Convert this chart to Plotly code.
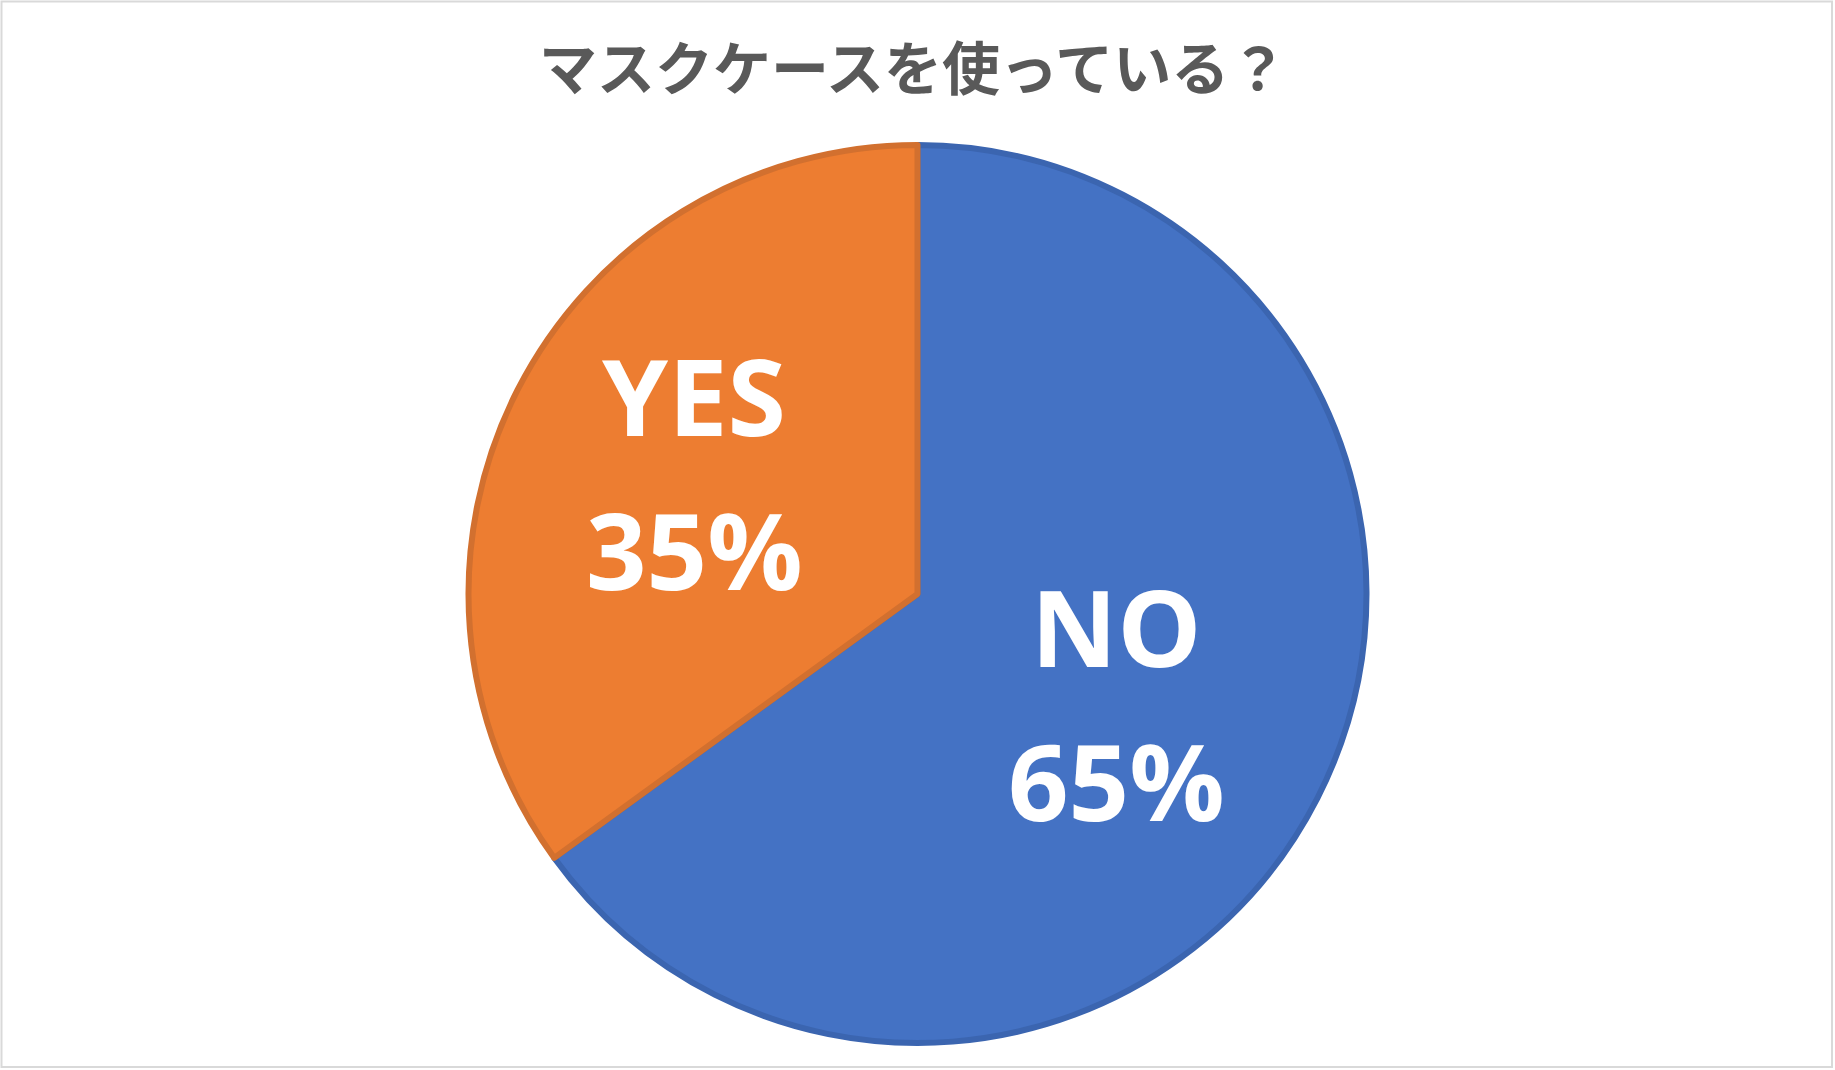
import math
import plotly.graph_objects as go

# ---- data ----
title_text = "マスクケースを使っている？"
categories = ["NO", "YES"]
values = [65, 35]
pct_labels = ["65%", "35%"]

# ---- style ----
fill_colors = ["#4472C4", "#ED7D31"]
line_colors = ["#3B65B0", "#D2702F"]
label_r = [0.51, 0.56]            # label distance as fraction of radius
label_nudge = [(-5, 5), (1, -8)]  # small pixel nudges (x, y-down)

W, H = 1835, 1070
cx, cy, R = 917.5, 594.0, 449.0

fig = go.Figure()
fig.add_trace(go.Pie(
    labels=categories,
    values=values,
    sort=False,
    direction="clockwise",
    rotation=0,
    textinfo="none",
    hoverinfo="label+percent",
    marker=dict(colors=fill_colors, line=dict(color=line_colors, width=6)),
    domain=dict(x=[(cx - R) / W, (cx + R) / W], y=[(H - cy - R) / H, (H - cy + R) / H]),
    showlegend=False,
))

annotations = [dict(
    text=f"<b>{title_text}</b>", x=913 / W, y=1 - 65 / H, xref="paper", yref="paper",
    xanchor="center", yanchor="middle", showarrow=False,
    font=dict(family="Noto Sans CJK JP", size=58, color="#595959"),
)]

total = sum(values)
cum = 0
for cat, val, pct, rf, (nx, ny) in zip(categories, values, pct_labels, label_r, label_nudge):
    mid = (cum + val / 2) / total * 2 * math.pi
    cum += val
    px = cx + rf * R * math.sin(mid) + nx
    py = cy - rf * R * math.cos(mid) + ny
    for txt, shift in ((cat, 77), (pct, -77)):
        annotations.append(dict(
            text=f"<b>{txt}</b>", x=px / W, y=1 - py / H, xref="paper", yref="paper",
            xanchor="center", yanchor="middle", yshift=shift, showarrow=False,
            font=dict(family="Open Sans", size=106, color="#FFFFFF"),
        ))

fig.update_layout(
    width=W, height=H,
    margin=dict(l=0, r=0, t=0, b=0),
    paper_bgcolor="#FFFFFF",
    plot_bgcolor="#FFFFFF",
    annotations=annotations,
    shapes=[dict(type="rect", xref="paper", yref="paper", x0=1.5 / W, y0=3 / H, x1=1 - 3 / W, y1=1 - 1.5 / H,
                 line=dict(color="#D9D9D9", width=2), fillcolor="rgba(0,0,0,0)")],
)

fig.write_html("out.html", config={"displayModeBar": False},
               post_script="document.body.style.margin='0';document.body.style.overflow='hidden';")
